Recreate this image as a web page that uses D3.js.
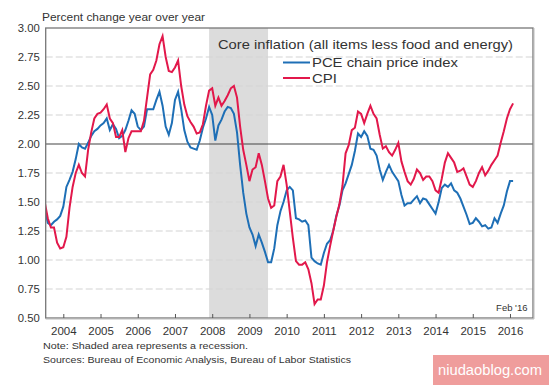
<!DOCTYPE html>
<html>
<head>
<meta charset="utf-8">
<script src="https://cdn.jsdelivr.net/npm/d3@7"></script>
<style>
  html, body { margin: 0; padding: 0; background: #fff; }
  svg { display: block; font-family: "Liberation Sans", Arial, sans-serif; }
</style>
</head>
<body>
<svg id="chart" width="550" height="385"></svg>
<script>
// ---- data (monthly, Jul 2003 .. Feb 2016) ----
const startYear = 2003;
const startMonth = 7; // July

const pceValues = [
  1.45, 1.32, 1.30, 1.33, 1.35, 1.38,
  1.46, 1.63, 1.69, 1.76, 1.87, 2.00, 1.97, 1.96, 2.01, 2.07, 2.11, 2.13,
  2.16, 2.18, 2.22, 2.12, 2.17, 2.13, 2.05, 2.07, 2.12, 2.20, 2.29, 2.26,
  2.15, 2.12, 2.15, 2.30, 2.30, 2.30, 2.38, 2.45, 2.33, 2.15, 2.08, 2.18,
  2.38, 2.45, 2.30, 2.12, 2.02, 1.97, 1.96, 1.95, 2.03, 2.14, 2.22, 2.32,
  2.25, 2.03, 2.16, 2.21, 2.28, 2.32, 2.31, 2.26, 2.10, 1.82, 1.58, 1.40,
  1.28, 1.22, 1.12, 1.22, 1.15, 1.07, 0.98, 0.98, 1.10, 1.30, 1.42, 1.50,
  1.60, 1.63, 1.60, 1.36, 1.35, 1.33, 1.34, 1.30, 1.02, 0.99, 0.97, 0.96,
  1.06, 1.14, 1.17, 1.25, 1.38, 1.47, 1.60, 1.66, 1.74, 1.82, 1.94, 2.09,
  2.06, 2.11, 2.07, 1.96, 1.95, 1.90, 1.78, 1.69, 1.76, 1.82, 1.76, 1.72,
  1.68, 1.56, 1.47, 1.49, 1.49, 1.52, 1.55, 1.49, 1.53, 1.52, 1.48, 1.44,
  1.40, 1.50, 1.62, 1.65, 1.63, 1.66, 1.60, 1.58, 1.53, 1.46, 1.39, 1.31,
  1.32, 1.36, 1.33, 1.29, 1.30, 1.27, 1.28, 1.36, 1.32, 1.40, 1.47, 1.59,
  1.68, 1.68
];

const cpiValues = [
  1.50, 1.36, 1.28, 1.28, 1.15, 1.10,
  1.11, 1.20, 1.45, 1.63, 1.75, 1.82, 1.75, 1.72, 1.95, 2.10, 2.22, 2.26,
  2.27, 2.30, 2.34, 2.22, 2.18, 2.06, 2.06, 2.12, 1.93, 2.05, 2.11, 2.11,
  2.11, 2.11, 2.20, 2.40, 2.60, 2.64, 2.72, 2.86, 2.93, 2.75, 2.63, 2.62,
  2.66, 2.72, 2.50, 2.34, 2.24, 2.19, 2.15, 2.09, 2.10, 2.17, 2.33, 2.46,
  2.48, 2.33, 2.40, 2.33, 2.37, 2.42, 2.48, 2.50, 2.40, 2.15, 1.95, 1.82,
  1.68, 1.78, 1.80, 1.92, 1.82, 1.68, 1.53, 1.45, 1.47, 1.68, 1.72, 1.82,
  1.65, 1.42, 1.19, 0.99, 0.96, 0.96, 0.98, 0.92, 0.80, 0.62, 0.66, 0.66,
  0.78, 0.98, 1.12, 1.25, 1.37, 1.48, 1.64, 1.92, 1.99, 2.12, 2.14, 2.28,
  2.26, 2.18, 2.26, 2.33, 2.26, 2.22, 2.08, 1.96, 1.98, 1.93, 1.90, 1.95,
  2.01, 1.85, 1.76, 1.68, 1.65, 1.70, 1.78, 1.75, 1.69, 1.72, 1.72, 1.68,
  1.60, 1.58, 1.70, 1.84, 1.92, 1.88, 1.84, 1.76, 1.77, 1.79, 1.72, 1.65,
  1.63, 1.68, 1.75, 1.80, 1.73, 1.77, 1.82, 1.86, 1.90, 2.01, 2.11, 2.22,
  2.30, 2.35
];

const yTicks = [0.50, 0.75, 1.00, 1.25, 1.50, 1.75, 2.00, 2.25, 2.50, 2.75, 3.00];
const xTicks = [2004, 2005, 2006, 2007, 2008, 2009, 2010, 2011, 2012, 2013, 2014, 2015, 2016];
const recession = [2007 + 11/12, 2009 + 6/12]; // Dec 2007 - Jun 2009
const seriesNames = ["PCE chain price index", "CPI"];
const seriesColors = ["#1e6fb6", "#e2184b"];

// ---- layout ----
const L = 45.7, R = 533, T = 28, B = 318;
const svg = d3.select("#chart");
const x = d3.scaleLinear().domain([2003.527, 2016.618]).range([L, R]);
const y = d3.scaleLinear().domain([0.5, 3.0]).range([B, T]);

const toT = i => startYear + (startMonth - 1 + i) / 12;
const pce = pceValues.map((v, i) => ({ t: toT(i), v }));
const cpi = cpiValues.map((v, i) => ({ t: toT(i), v }));

svg.append("defs").append("clipPath").attr("id", "clip")
  .append("rect").attr("x", L).attr("y", T).attr("width", R - L).attr("height", B - T);

// recession shading
svg.append("rect")
  .attr("x", x(recession[0])).attr("y", T)
  .attr("width", x(recession[1]) - x(recession[0])).attr("height", B - T)
  .attr("fill", "#dcdcdc");

// gridlines
svg.append("g").selectAll("line")
  .data(yTicks.filter(d => d !== 0.5 && d !== 3.0 && d !== 2.0))
  .join("line")
  .attr("x1", L).attr("x2", R)
  .attr("y1", d => y(d)).attr("y2", d => y(d))
  .attr("stroke", "#d4d4d4").attr("stroke-width", 1.2)
  .attr("stroke-dasharray", "7,3");

// 2.00 reference line
svg.append("line")
  .attr("x1", L).attr("x2", R).attr("y1", y(2.0)).attr("y2", y(2.0))
  .attr("stroke", "#444").attr("stroke-width", 1.2);

// lines
const line = d3.line().x(d => x(d.t)).y(d => y(d.v)).curve(d3.curveLinear);
const g = svg.append("g").attr("clip-path", "url(#clip)");
g.append("path").datum(pce).attr("d", line)
  .attr("fill", "none").attr("stroke", seriesColors[0]).attr("stroke-width", 2);
g.append("path").datum(cpi).attr("d", line)
  .attr("fill", "none").attr("stroke", seriesColors[1]).attr("stroke-width", 2);

// frame
svg.append("rect")
  .attr("x", L).attr("y", T).attr("width", R - L).attr("height", B - T)
  .attr("fill", "none").attr("stroke", "#777").attr("stroke-width", 1.3);
svg.append("line").attr("x1", R + 1).attr("x2", R + 1).attr("y1", T).attr("y2", B + 1)
  .attr("stroke", "#bbb").attr("stroke-width", 1);
svg.append("line").attr("x1", L).attr("x2", R + 1).attr("y1", B + 1).attr("y2", B + 1)
  .attr("stroke", "#bbb").attr("stroke-width", 1);

// x axis ticks (inside, pointing up) and labels
const xAxis = d3.axisBottom(x).tickValues(xTicks).tickSize(-4).tickFormat(d3.format("d")).tickPadding(9);
const xg = svg.append("g").attr("transform", `translate(0,${B})`).call(xAxis);
xg.select(".domain").remove();
xg.selectAll(".tick line").attr("stroke", "#555");
xg.selectAll(".tick text")
  .attr("font-size", "11.5px").attr("fill", "#333")
  .attr("font-family", "Liberation Sans, Arial, sans-serif");

// y axis labels
const yAxis = d3.axisLeft(y).tickValues(yTicks).tickSize(0).tickPadding(6).tickFormat(d3.format(".2f"));
const yg = svg.append("g").attr("transform", `translate(${L},0)`).call(yAxis);
yg.select(".domain").remove();
yg.selectAll(".tick text")
  .attr("font-size", "11px").attr("fill", "#333")
  .attr("font-family", "Liberation Sans, Arial, sans-serif")
  .attr("textLength", 22).attr("lengthAdjust", "spacingAndGlyphs");

// titles
svg.append("text").attr("x", 42).attr("y", 20.5)
  .attr("font-size", "10.5px").attr("fill", "#333")
  .attr("textLength", 163).attr("lengthAdjust", "spacingAndGlyphs")
  .text("Percent change year over year");

svg.append("text").attr("x", 218).attr("y", 48.5)
  .attr("font-size", "13px").attr("fill", "#333")
  .attr("textLength", 295).attr("lengthAdjust", "spacingAndGlyphs")
  .text("Core inflation (all items less food and energy)");

// legend
const leg = svg.append("g");
seriesNames.forEach((name, i) => {
  const ly = 62.5 + i * 15.5;
  leg.append("line").attr("x1", 283).attr("x2", 310).attr("y1", ly).attr("y2", ly)
    .attr("stroke", seriesColors[i]).attr("stroke-width", 2);
  leg.append("text").attr("x", 312).attr("y", ly + 4.5)
    .attr("font-size", "13px").attr("fill", "#333")
    .attr("textLength", i === 0 ? 146 : 25).attr("lengthAdjust", "spacingAndGlyphs")
    .text(name);
});

// date stamp
svg.append("text").attr("x", 527.5).attr("y", 310.5).attr("text-anchor", "end")
  .attr("font-size", "9.5px").attr("fill", "#333")
  .text("Feb '16");

// notes
svg.append("text").attr("x", 43).attr("y", 349)
  .attr("font-size", "9px").attr("fill", "#333")
  .attr("textLength", 205).attr("lengthAdjust", "spacingAndGlyphs")
  .text("Note: Shaded area represents a recession.");
svg.append("text").attr("x", 43).attr("y", 362.5)
  .attr("font-size", "9px").attr("fill", "#333")
  .attr("textLength", 308).attr("lengthAdjust", "spacingAndGlyphs")
  .text("Sources: Bureau of Economic Analysis, Bureau of Labor Statistics");

// watermark
svg.append("rect").attr("x", 433).attr("y", 355).attr("width", 116).attr("height", 30)
  .attr("fill", "#ef9d9c");
svg.append("text").attr("x", 490).attr("y", 374.5).attr("text-anchor", "middle")
  .attr("font-size", "15.5px").attr("fill", "#fff")
  .attr("textLength", 104).attr("lengthAdjust", "spacingAndGlyphs")
  .text("niudaoblog.com");
</script>
</body>
</html>
